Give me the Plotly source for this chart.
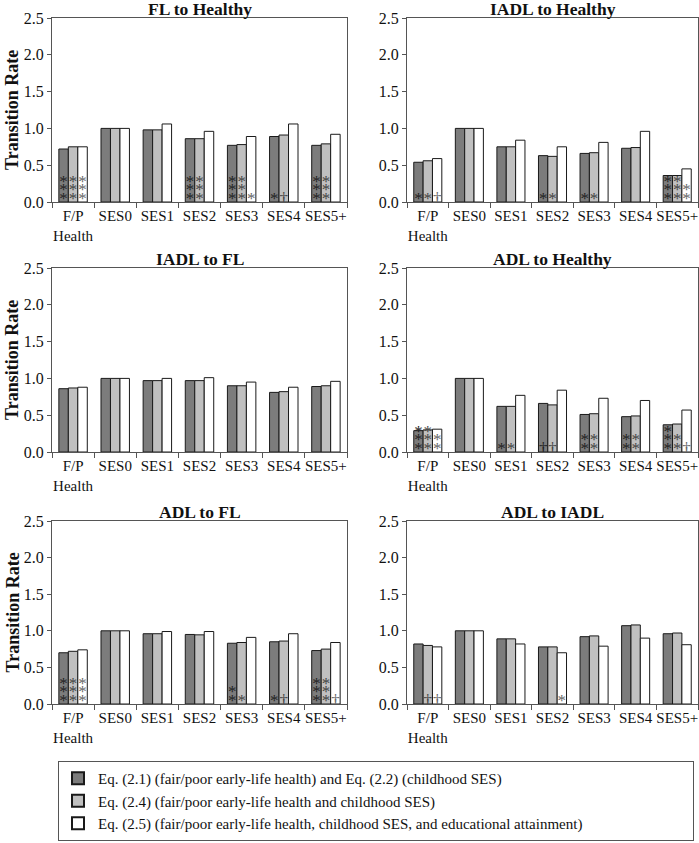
import plotly.graph_objects as go

# ---------------- data ----------------
CATEGORIES = ["F/P<br>Health", "SES0", "SES1", "SES2", "SES3", "SES4", "SES5+"]
SERIES_NAMES = [
    "Eq. (2.1) (fair/poor early-life health) and Eq. (2.2) (childhood SES)",
    "Eq. (2.4) (fair/poor early-life health and childhood SES)",
    "Eq. (2.5) (fair/poor early-life health, childhood SES, and educational attainment)",
]
PANEL_TITLES = ["FL to Healthy", "IADL to Healthy", "IADL to FL",
                "ADL to Healthy", "ADL to FL", "ADL to IADL"]

FL_HEALTHY_EQ21 = [0.72, 1.00, 0.98, 0.86, 0.77, 0.89, 0.77]
FL_HEALTHY_EQ24 = [0.75, 1.00, 0.98, 0.86, 0.78, 0.91, 0.79]
FL_HEALTHY_EQ25 = [0.75, 1.00, 1.06, 0.96, 0.89, 1.06, 0.92]
FL_HEALTHY_SIG21 = ["***", "", "", "***", "***", "*", "***"]
FL_HEALTHY_SIG24 = ["***", "", "", "***", "***", "†", "***"]
FL_HEALTHY_SIG25 = ["***", "", "", "", "*", "", ""]

IADL_HEALTHY_EQ21 = [0.54, 1.00, 0.75, 0.63, 0.66, 0.73, 0.36]
IADL_HEALTHY_EQ24 = [0.56, 1.00, 0.75, 0.62, 0.67, 0.74, 0.36]
IADL_HEALTHY_EQ25 = [0.59, 1.00, 0.84, 0.75, 0.81, 0.96, 0.45]
IADL_HEALTHY_SIG21 = ["*", "", "", "*", "*", "", "***"]
IADL_HEALTHY_SIG24 = ["*", "", "", "*", "*", "", "***"]
IADL_HEALTHY_SIG25 = ["†", "", "", "", "", "", "**"]

IADL_FL_EQ21 = [0.86, 1.00, 0.97, 0.97, 0.90, 0.81, 0.89]
IADL_FL_EQ24 = [0.87, 1.00, 0.97, 0.97, 0.90, 0.82, 0.90]
IADL_FL_EQ25 = [0.88, 1.00, 1.00, 1.01, 0.95, 0.88, 0.96]
IADL_FL_SIG21 = ["", "", "", "", "", "", ""]
IADL_FL_SIG24 = ["", "", "", "", "", "", ""]
IADL_FL_SIG25 = ["", "", "", "", "", "", ""]

ADL_HEALTHY_EQ21 = [0.29, 1.00, 0.62, 0.66, 0.51, 0.48, 0.37]
ADL_HEALTHY_EQ24 = [0.30, 1.00, 0.62, 0.64, 0.52, 0.49, 0.38]
ADL_HEALTHY_EQ25 = [0.31, 1.00, 0.77, 0.84, 0.73, 0.70, 0.57]
ADL_HEALTHY_SIG21 = ["***", "", "*", "†", "**", "**", "***"]
ADL_HEALTHY_SIG24 = ["***", "", "*", "†", "**", "**", "**"]
ADL_HEALTHY_SIG25 = ["**", "", "", "", "", "", "†"]

ADL_FL_EQ21 = [0.70, 1.00, 0.96, 0.95, 0.83, 0.85, 0.73]
ADL_FL_EQ24 = [0.72, 1.00, 0.96, 0.945, 0.84, 0.86, 0.75]
ADL_FL_EQ25 = [0.74, 1.00, 0.99, 0.99, 0.91, 0.96, 0.84]
ADL_FL_SIG21 = ["***", "", "", "", "**", "*", "***"]
ADL_FL_SIG24 = ["***", "", "", "", "*", "†", "***"]
ADL_FL_SIG25 = ["***", "", "", "", "", "", "†"]

ADL_IADL_EQ21 = [0.82, 1.00, 0.89, 0.78, 0.92, 1.07, 0.96]
ADL_IADL_EQ24 = [0.80, 1.00, 0.89, 0.78, 0.93, 1.08, 0.97]
ADL_IADL_EQ25 = [0.78, 1.00, 0.82, 0.70, 0.79, 0.90, 0.81]
ADL_IADL_SIG21 = ["", "", "", "", "", "", ""]
ADL_IADL_SIG24 = ["†", "", "", "", "", "", ""]
ADL_IADL_SIG25 = ["†", "", "", "*", "", "", ""]

PANEL_VALUES = [
    [FL_HEALTHY_EQ21, FL_HEALTHY_EQ24, FL_HEALTHY_EQ25],
    [IADL_HEALTHY_EQ21, IADL_HEALTHY_EQ24, IADL_HEALTHY_EQ25],
    [IADL_FL_EQ21, IADL_FL_EQ24, IADL_FL_EQ25],
    [ADL_HEALTHY_EQ21, ADL_HEALTHY_EQ24, ADL_HEALTHY_EQ25],
    [ADL_FL_EQ21, ADL_FL_EQ24, ADL_FL_EQ25],
    [ADL_IADL_EQ21, ADL_IADL_EQ24, ADL_IADL_EQ25],
]
PANEL_SIGS = [
    [FL_HEALTHY_SIG21, FL_HEALTHY_SIG24, FL_HEALTHY_SIG25],
    [IADL_HEALTHY_SIG21, IADL_HEALTHY_SIG24, IADL_HEALTHY_SIG25],
    [IADL_FL_SIG21, IADL_FL_SIG24, IADL_FL_SIG25],
    [ADL_HEALTHY_SIG21, ADL_HEALTHY_SIG24, ADL_HEALTHY_SIG25],
    [ADL_FL_SIG21, ADL_FL_SIG24, ADL_FL_SIG25],
    [ADL_IADL_SIG21, ADL_IADL_SIG24, ADL_IADL_SIG25],
]

# ---------------- style ----------------
W, H = 699, 843
FONT = "Liberation Serif"
BAR_COLORS = ["#7c7c7c", "#c0c0c0", "#ffffff"]
SIG_COLORS = ["#222222", "#444444", "#666666"]
BAR_W = 0.225
SIG_Y0, SIG_DY = 0.035, 0.115

COL_X = [(52, 347), (407, 698)]
ROW_Y = [(18, 202), (268, 452), (521, 704)]

fig = go.Figure()
layout = {}
annotations = []

for p, title in enumerate(PANEL_TITLES):
    r, c = divmod(p, 2)
    n = p + 1
    xa, ya = ("x", "y") if n == 1 else (f"x{n}", f"y{n}")
    for k in range(3):
        xs = [i + (k - 1) * BAR_W for i in range(len(CATEGORIES))]
        fig.add_trace(go.Bar(
            x=xs, y=PANEL_VALUES[p][k], width=BAR_W,
            marker=dict(color=BAR_COLORS[k], line=dict(color="#1a1a1a", width=1)),
            name=SERIES_NAMES[k], legendgroup=str(k), showlegend=(p == 0),
            xaxis=xa, yaxis=ya, hoverinfo="y",
        ))
        tx, ty, tt = [], [], []
        for i, s in enumerate(PANEL_SIGS[p][k]):
            for lev, ch in enumerate(s):
                tx.append(xs[i]); ty.append(SIG_Y0 + lev * SIG_DY); tt.append(ch)
        if tt:
            fig.add_trace(go.Scatter(
                x=tx, y=ty, text=tt, mode="text", textposition="middle center",
                textfont=dict(family=FONT, size=17, color=SIG_COLORS[k]),
                showlegend=False, xaxis=xa, yaxis=ya, hoverinfo="skip",
            ))
    x0, x1 = COL_X[c]
    y0, y1 = ROW_Y[r]
    sfx = "" if n == 1 else str(n)
    layout[f"xaxis{sfx}"] = dict(
        domain=[x0 / W, x1 / W], anchor=ya, range=[-0.5, 6.5], automargin=False,
        tickmode="array", tickvals=list(range(len(CATEGORIES))), ticktext=CATEGORIES,
        ticks="", showgrid=False, zeroline=False,
        showline=True, linecolor="#555", linewidth=1, mirror=True,
        tickfont=dict(family=FONT, size=15, color="#111"),
        minor=dict(tickmode="linear", tick0=0.5, dtick=1, ticks="outside",
                   ticklen=5, tickcolor="#555", showgrid=False),
    )
    layout[f"yaxis{sfx}"] = dict(
        domain=[1 - y1 / H, 1 - y0 / H], anchor=xa, range=[0, 2.5], automargin=False,
        tickmode="array", tickvals=[0, 0.5, 1.0, 1.5, 2.0, 2.5], tickformat=".1f",
        ticks="outside", ticklen=4, tickcolor="#555", showgrid=False, zeroline=False,
        showline=True, linecolor="#555", linewidth=1, mirror=True,
        tickfont=dict(family=FONT, size=16, color="#111"),
    )
    annotations.append(dict(
        text=f"<b>{title}</b>", xref="paper", yref="paper",
        x=(x0 + x1) / 2 / W, y=1 - (y0 - 9) / H, xanchor="center", yanchor="middle",
        showarrow=False, font=dict(family=FONT, size=17.5, color="#111"),
    ))
    if c == 0:
        annotations.append(dict(
            text="<b>Transition Rate</b>", xref="paper", yref="paper",
            x=12 / W, y=1 - (y0 + y1) / 2 / H, xanchor="center", yanchor="middle",
            textangle=-90, showarrow=False, font=dict(family=FONT, size=18, color="#111"),
        ))

fig.update_layout(
    **layout,
    width=W, height=H,
    margin=dict(l=0, r=0, t=0, b=0, autoexpand=False),
    paper_bgcolor="white", plot_bgcolor="white",
    barmode="overlay",
    annotations=annotations,
    font=dict(family=FONT, color="#111"),
    legend=dict(
        orientation="h", entrywidth=590, entrywidthmode="pixels",
        x=58 / W, y=1 - 841 / H, xanchor="left", yanchor="bottom",
        bordercolor="#555", borderwidth=1, bgcolor="white",
        font=dict(family=FONT, size=15, color="#111"),
        tracegroupgap=0, itemsizing="constant",
    ),
)

fig.write_html(
    "out.html",
    config={"displayModeBar": False},
    post_script="document.body.style.margin='0';document.body.style.overflow='hidden';",
)
